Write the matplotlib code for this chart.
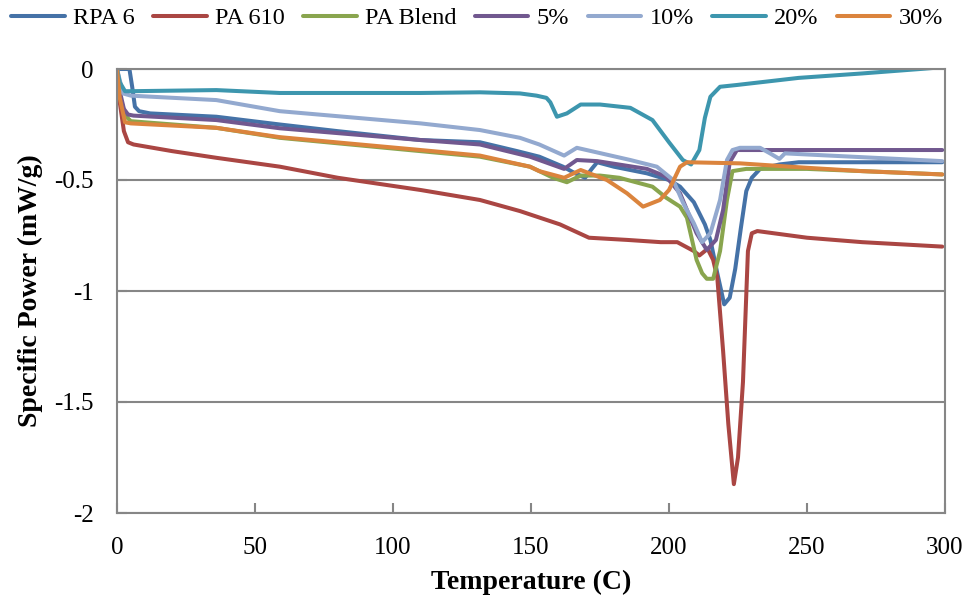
import matplotlib
matplotlib.use("Agg")
import matplotlib.pyplot as plt
from matplotlib.ticker import FuncFormatter, MultipleLocator

# =================================================================
# DATA (temperature in C, power in mW/g)
# =================================================================
rpa6_t = [0, 4.5, 5.5, 6.5, 8, 12, 20, 36, 59, 80, 110, 131.5, 145, 153, 161.6,
          166, 169.6, 172, 174, 180, 192, 200, 204, 209, 213, 215, 217.5, 220,
          222, 224, 226, 228, 230, 233, 240, 247, 270, 299]
rpa6_p = [0, 0, -0.08, -0.17, -0.19, -0.2, -0.205, -0.215, -0.25, -0.28, -0.32,
          -0.33, -0.37, -0.395, -0.44, -0.47, -0.49, -0.45, -0.42, -0.44, -0.47,
          -0.5, -0.53, -0.6, -0.7, -0.77, -0.92, -1.06, -1.03, -0.9, -0.72,
          -0.55, -0.49, -0.45, -0.43, -0.42, -0.42, -0.42]

pa610_t = [0, 1, 2.5, 4, 6, 20, 36, 59, 80, 110, 131.5, 146, 160.5, 171, 185,
           197, 203, 209, 211, 214, 216, 217.5, 219.6, 221.5, 223.5, 225, 226.8,
           228.6, 230, 232, 250, 270, 299]
pa610_p = [0, -0.15, -0.28, -0.33, -0.34, -0.37, -0.4, -0.44, -0.49, -0.545,
           -0.59, -0.64, -0.7, -0.76, -0.77, -0.78, -0.78, -0.82, -0.84, -0.81,
           -0.86, -0.94, -1.27, -1.6, -1.87, -1.75, -1.41, -0.82, -0.74, -0.73,
           -0.76, -0.78, -0.8]

blend_t = [0, 1, 3, 5, 10, 36, 59, 110, 131.5, 149.6, 153, 158, 163, 168, 175,
           182, 194, 199, 204, 206.5, 210, 212, 213.7, 216, 218.5, 221, 223, 228,
           250, 270, 299]
blend_p = [0, -0.12, -0.21, -0.235, -0.24, -0.265, -0.31, -0.37, -0.395, -0.44,
           -0.46, -0.49, -0.51, -0.48, -0.48, -0.49, -0.53, -0.58, -0.62, -0.67,
           -0.86, -0.92, -0.945, -0.945, -0.82, -0.59, -0.46, -0.45, -0.45,
           -0.46, -0.475]

p5_t = [0, 1, 2.5, 4, 6, 36, 59, 110, 131.5, 149.6, 153, 162, 166.6, 174, 192,
        199, 204, 210, 213.7, 217, 219.6, 222, 224.6, 250, 299]
p5_p = [0, -0.1, -0.18, -0.205, -0.21, -0.23, -0.267, -0.32, -0.34, -0.395,
        -0.41, -0.45, -0.41, -0.415, -0.45, -0.485, -0.56, -0.74, -0.815, -0.77,
        -0.635, -0.42, -0.365, -0.365, -0.365]

p10_t = [0, 1, 2.2, 5, 36, 59, 110, 131.5, 146, 153, 162, 166.6, 186, 195.6,
         201.5, 205, 209, 212, 215, 218.5, 221, 223, 225.7, 233, 236.6, 240, 242,
         250, 299]
p10_p = [0, -0.05, -0.11, -0.12, -0.14, -0.19, -0.245, -0.275, -0.31, -0.34,
         -0.39, -0.355, -0.41, -0.44, -0.5, -0.6, -0.695, -0.78, -0.74, -0.59,
         -0.41, -0.365, -0.355, -0.355, -0.38, -0.405, -0.38, -0.385, -0.415]

p20_t = [0, 1, 2.9, 5, 36, 59, 110, 131.5, 146, 152, 155.6, 157, 159.4, 163, 168,
         175, 186, 194, 200, 205, 208, 211, 213, 215, 218.5, 224.6, 247, 270,
         291, 299]
p20_p = [0, -0.06, -0.1, -0.1, -0.095, -0.108, -0.108, -0.105, -0.11, -0.12,
         -0.13, -0.15, -0.215, -0.2, -0.16, -0.16, -0.175, -0.23, -0.33, -0.41,
         -0.43, -0.365, -0.22, -0.125, -0.08, -0.072, -0.04, -0.02, 0.0, 0.008]

p30_t = [0, 1, 2.9, 5, 36, 59, 110, 131.5, 149.6, 153, 162, 168, 177.5, 184.8,
         190.6, 196.7, 200, 204, 206.5, 225.7, 250, 270, 299]
p30_p = [0, -0.13, -0.24, -0.245, -0.265, -0.307, -0.365, -0.39, -0.44, -0.46,
         -0.49, -0.455, -0.5, -0.56, -0.62, -0.59, -0.545, -0.44, -0.42, -0.425,
         -0.445, -0.46, -0.475]

labels = ["RPA 6", "PA 610", "PA Blend", "5%", "10%", "20%", "30%"]
colors = ["#4572A7", "#AA4643", "#89A54E", "#71588F", "#93A9CF", "#3D96AE", "#DB843D"]
series = [(rpa6_t, rpa6_p), (pa610_t, pa610_p), (blend_t, blend_p),
          (p5_t, p5_p), (p10_t, p10_p), (p20_t, p20_p), (p30_t, p30_p)]

# =================================================================
# PLOT
# =================================================================
plt.rcParams['font.family'] = ['Liberation Serif', 'DejaVu Serif']
plt.rcParams['axes.unicode_minus'] = False

grey = "#868686"
fig = plt.figure(figsize=(9.7, 6.02), dpi=100)
ax = fig.add_axes([117 / 970, 1 - 513 / 602, (945 - 117) / 970, (513 - 69) / 602])

for (t, p), lab, col in zip(series, labels, colors):
    ax.plot(t, p, color=col, lw=2.9, label=lab,
            solid_joinstyle='round', solid_capstyle='round')

ax.set_xlim(0, 300)
ax.set_ylim(-2, 0)
ax.xaxis.set_major_locator(MultipleLocator(50))
ax.yaxis.set_major_locator(MultipleLocator(0.5))
ax.yaxis.set_major_formatter(FuncFormatter(lambda v, _: f"{v:g}"))
ax.grid(True, axis='y', color=grey, lw=1.5)
ax.set_axisbelow(True)
for s in ax.spines.values():
    s.set_color(grey)
    s.set_linewidth(1.5)
ax.tick_params(direction='in', length=7, width=1.5, color=grey,
               labelsize=18, pad=17)

ax.set_xlabel("Temperature (C)", fontsize=20, fontweight='bold', labelpad=8)
ax.set_ylabel("Specific Power (mW/g)", fontsize=20, fontweight='bold', labelpad=8)

fig.legend(loc='upper center', bbox_to_anchor=(0.492, 1.008), ncol=7,
           frameon=False, fontsize=17.5, handlelength=2.2, handletextpad=0.35,
           columnspacing=0.75, borderaxespad=0.2, borderpad=0.3)

fig.savefig("out.png", dpi=100)
